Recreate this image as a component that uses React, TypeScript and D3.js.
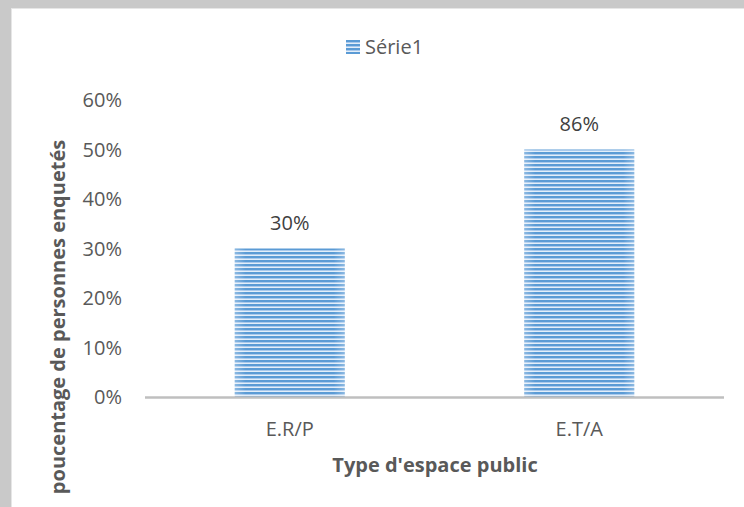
import React from "react";
import * as d3 from "d3";

const categories = ["E.R/P", "E.T/A"];
const values = [0.3, 0.5];
const dataLabels = ["30%", "86%"];
const yTicks = [0, 0.1, 0.2, 0.3, 0.4, 0.5, 0.6];
const seriesName = "Série1";
const xTitle = "Type d'espace public";
const yTitle = "poucentage de personnes enquetés";

const W = 744;
const H = 507;
const FONT = "'Open Sans', 'Noto Sans', sans-serif";
const TXT = "#595959";
const FS = 20;

export default function App() {
  const x = d3.scaleBand<string>().domain(categories).range([145, 724]).padding(0);
  const y = d3.scaleLinear().domain([0, 0.6]).range([397, 100]);
  const bw = x.bandwidth() * 0.38;
  const fmt = d3.format(".0%");

  return (
    <svg width={W} height={H} style={{ position: "absolute", left: 0, top: 0 }}>
      <defs>
        <pattern id="stripes" width="8" height="4" patternUnits="userSpaceOnUse">
          <rect width="8" height="4" fill="#a9c9ec" />
          <rect y="0" width="8" height="2" fill="#5b9bd5" />
          <rect y="3" width="8" height="1" fill="#e3eef9" />
        </pattern>
        <linearGradient id="edge" x1="0" x2="1" y1="0" y2="0">
          <stop offset="0" stopColor="#ffffff" stopOpacity="0.3" />
          <stop offset="0.1" stopColor="#ffffff" stopOpacity="0" />
          <stop offset="0.9" stopColor="#ffffff" stopOpacity="0" />
          <stop offset="1" stopColor="#ffffff" stopOpacity="0.3" />
        </linearGradient>
      </defs>
      <rect x={0} y={0} width={W} height={H} fill="#c9c9c9" />
      <rect x={11} y={8} width={W - 11} height={H - 8} fill="#e6e6e6" />
      <rect x={12} y={9} width={W - 12} height={H - 9} fill="#ffffff" />

      {/* legend */}
      <rect x={346} y={40} width={14} height={14} fill="url(#stripes)" />
      <text x={365} y={54} fontFamily={FONT} fontSize={FS} fill={TXT}>
        {seriesName}
      </text>

      {/* y tick labels */}
      {yTicks.map((t) => (
        <text
          key={t}
          x={122}
          y={y(t)}
          dy="0.36em"
          textAnchor="end"
          fontFamily={FONT}
          fontSize={FS}
          fill={TXT}
        >
          {fmt(t)}
        </text>
      ))}

      {/* bars */}
      {categories.map((c, i) => {
        const cx = (x(c) as number) + x.bandwidth() / 2;
        return (
          <g key={c}>
            <rect
              x={cx - bw / 2}
              y={y(values[i])}
              width={bw}
              height={y(0) - y(values[i])}
              fill="url(#stripes)"
            />
            <rect
              x={cx - bw / 2}
              y={y(values[i])}
              width={bw}
              height={y(0) - y(values[i])}
              fill="url(#edge)"
            />
            <text
              x={cx}
              y={y(values[i]) - 19}
              textAnchor="middle"
              fontFamily={FONT}
              fontSize={FS}
              fill="#404040"
            >
              {dataLabels[i]}
            </text>
            <text
              x={cx}
              y={y(0) + 39}
              textAnchor="middle"
              fontFamily={FONT}
              fontSize={FS}
              fill={TXT}
            >
              {c}
            </text>
          </g>
        );
      })}

      {/* x axis line */}
      <line x1={145} x2={724} y1={y(0) + 0.5} y2={y(0) + 0.5} stroke="#bfbfbf" strokeWidth={2.5} />

      {/* titles */}
      <text
        x={435}
        y={472}
        textAnchor="middle"
        fontFamily={FONT}
        fontSize={FS}
        fontWeight="bold"
        fill={TXT}
      >
        {xTitle}
      </text>
      <text
        transform={`translate(65, 317) rotate(-90)`}
        textAnchor="middle"
        fontFamily={FONT}
        fontSize={FS}
        fontWeight="bold"
        fill={TXT}
      >
        {yTitle}
      </text>
    </svg>
  );
}
